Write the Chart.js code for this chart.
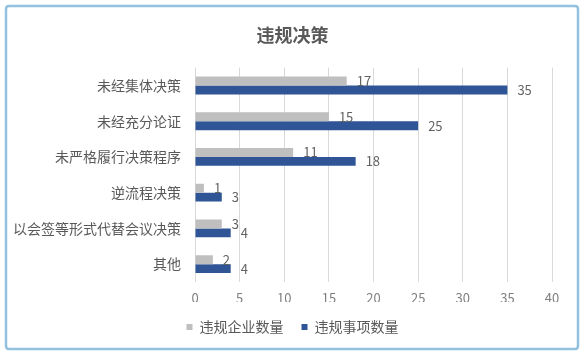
<!DOCTYPE html>
<html>
<head>
<meta charset="utf-8">
<script src="https://cdn.jsdelivr.net/npm/chart.js@4.4.1/dist/chart.umd.min.js"></script>
<style>
html,body{margin:0;padding:0;background:#fff;}
#wrap{width:585px;height:357px;position:relative;}
</style>
</head>
<body>
<div id="wrap"><canvas id="c" width="585" height="357"></canvas></div>
<script>
const categories = ['未经集体决策','未经充分论证','未严格履行决策程序','逆流程决策','以会签等形式代替会议决策','其他'];
const enterpriseCounts = [17, 15, 11, 1, 3, 2];
const itemCounts = [35, 25, 18, 3, 4, 4];
const seriesNames = ['违规企业数量','违规事项数量'];
const chartTitle = '违规决策';
const xTicks = [0,5,10,15,20,25,30,35,40];

const FONT = "'Noto Sans CJK SC','Noto Sans',sans-serif";

const framePlugin = {
  id: 'frame',
  beforeDraw(chart) {
    const ctx = chart.ctx;
    ctx.save();
    ctx.fillStyle = '#ffffff';
    ctx.fillRect(0,0,chart.width,chart.height);
    ctx.strokeStyle = '#93c1df';
    ctx.lineWidth = 2.5;
    const x=6,y=6,w=572,h=343,r=3;
    ctx.beginPath();
    ctx.moveTo(x+r,y);
    ctx.lineTo(x+w-r,y);ctx.quadraticCurveTo(x+w,y,x+w,y+r);
    ctx.lineTo(x+w,y+h-r);ctx.quadraticCurveTo(x+w,y+h,x+w-r,y+h);
    ctx.lineTo(x+r,y+h);ctx.quadraticCurveTo(x,y+h,x,y+h-r);
    ctx.lineTo(x,y+r);ctx.quadraticCurveTo(x,y,x+r,y);
    ctx.closePath();
    ctx.stroke();
    ctx.restore();
  }
};

// centre title and legend on the full canvas width
const centerPlugin = {
  id: 'centerBlocks',
  afterLayout(chart) {
    [chart.titleBlock, chart.legend].forEach(b => {
      if (!b) return;
      b.left = 0; b.right = chart.width; b.width = chart.width;
    });
  }
};

const labelPlugin = {
  id: 'barLabels',
  afterDatasetsDraw(chart) {
    const ctx = chart.ctx;
    ctx.save();
    ctx.font = '13px ' + FONT;
    ctx.fillStyle = '#636363';
    ctx.textAlign = 'left';
    ctx.textBaseline = 'middle';
    chart.data.datasets.forEach((ds, di) => {
      const meta = chart.getDatasetMeta(di);
      meta.data.forEach((el, i) => {
        ctx.fillText(String(ds.data[i]), el.x + 10, el.y);
      });
    });
    ctx.restore();
  }
};

new Chart(document.getElementById('c'), {
  type: 'bar',
  data: {
    labels: categories,
    datasets: [
      { label: seriesNames[0], data: enterpriseCounts, backgroundColor: '#bfbfbf', categoryPercentage: 0.5, barPercentage: 1.0 },
      { label: seriesNames[1], data: itemCounts, backgroundColor: '#2f5597', categoryPercentage: 0.5, barPercentage: 1.0 }
    ]
  },
  options: {
    indexAxis: 'y',
    responsive: false,
    animation: false,
    devicePixelRatio: 1,
    layout: { padding: { left: 0, right: 33, top: 12, bottom: 13 } },
    plugins: {
      title: {
        display: true, text: chartTitle, color: '#595959',
        font: { family: FONT, size: 18, weight: 'bold' },
        padding: { top: 12, bottom: 22 }
      },
      legend: {
        position: 'bottom',
        labels: {
          color: '#595959', font: { family: FONT, size: 14 },
          boxWidth: 6, boxHeight: 6, padding: 18
        }
      },
      tooltip: { enabled: false }
    },
    scales: {
      x: {
        min: 0, max: 40,
        afterBuildTicks(scale){ scale.ticks = xTicks.map(v => ({value: v})); },
        grid: { color: '#d9d9d9', drawTicks: false },
        border: { display: false },
        ticks: { color: '#7f7f7f', font: { family: FONT, size: 13 }, padding: 8 },
        afterFit(scale){ scale.height = 20; }
      },
      y: {
        grid: { display: false },
        border: { display: false },
        ticks: { color: '#595959', font: { family: FONT, size: 14 }, padding: 6 },
        afterFit(scale){ scale.width = 195; }
      }
    }
  },
  plugins: [framePlugin, centerPlugin, labelPlugin]
});
</script>
</body>
</html>
